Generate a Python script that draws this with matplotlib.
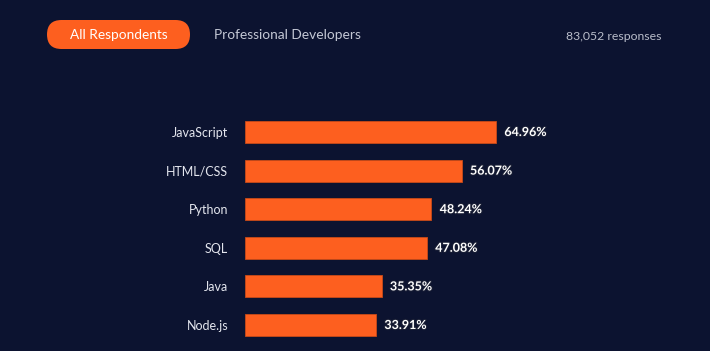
import matplotlib
matplotlib.use("Agg")
import matplotlib.pyplot as plt
from matplotlib.patches import FancyBboxPatch
import matplotlib.patheffects as pe

categories = ["JavaScript", "HTML/CSS", "Python", "SQL", "Java", "Node.js"]
values = [64.96, 56.07, 48.24, 47.08, 35.35, 33.91]
tabs = ["All Respondents", "Professional Developers"]
responses = "83,052"

BG = "#0c1330"
ORANGE = "#fd5f1f"
W, H = 710, 351

plt.rcParams['font.family'] = ['Lato', 'DejaVu Sans']
fig = plt.figure(figsize=(W/100, H/100), dpi=100, facecolor=BG)

def fx(px):
    return px / W
def fy(py):
    return 1 - py / H

# header
pill = FancyBboxPatch((47, H - 49), 143, 29, boxstyle="round,pad=0,rounding_size=14.5",
                      transform=None, facecolor=ORANGE, edgecolor="none")
fig.patches.append(pill)
fig.text(fx(118.5), fy(35), tabs[0], color="white", fontsize=9.8, ha="center", va="center")
fig.text(fx(214), fy(35), tabs[1], color="#c3c7d4", fontsize=9.9, ha="left", va="center")
fig.text(fx(662), fy(36.5), responses + " responses", color="#b9bdca", fontsize=8.8,
         ha="right", va="center")

# bars
T, B = 112.7, 344.3
L, R = 245, 700
ax = fig.add_axes([fx(L), fy(B), fx(R) - fx(L), (B - T) / H])
ax.set_facecolor(BG)
scale = (496 - 245) / 64.96
ax.set_xlim(0, (R - L) / scale)
ax.set_ylim(len(categories) - 0.5, -0.5)
ypos = list(range(len(categories)))
ax.barh(ypos, values, height=0.57, color=ORANGE, edgecolor="#c94a18", linewidth=0.6)
for s in ax.spines.values():
    s.set_visible(False)
ax.set_xticks([])
ax.set_yticks(ypos)
ax.set_yticklabels(categories, color="#e4e6ee", fontsize=9)
ax.tick_params(axis="y", length=0, pad=12)
for y, v in zip(ypos, values):
    ax.annotate(f"{v:.2f}%", (v, y), xytext=(6, 0), textcoords="offset points",
                ha="left", va="center", color="white", fontsize=9, fontweight="bold",
                path_effects=[pe.withStroke(linewidth=1.5, foreground="#1a1f35")])

fig.savefig("out.png", dpi=100, facecolor=BG)
